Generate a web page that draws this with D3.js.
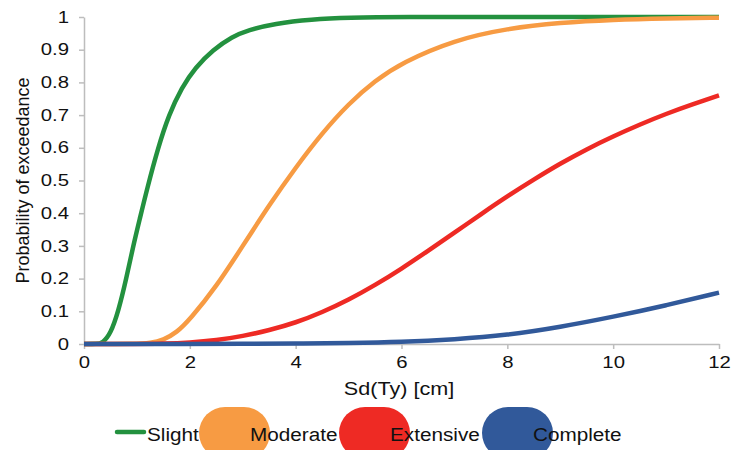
<!DOCTYPE html>
<html>
<head>
<meta charset="utf-8">
<script src="https://cdn.jsdelivr.net/npm/d3@7"></script>
<style>
  body { margin: 0; background: #fff; }
  text { font-family: "Liberation Sans", Arial, Helvetica, sans-serif; fill: #111; }
</style>
</head>
<body>
<div id="chart"></div>
<script>
// x values (Sd(Ty) in cm), per curve
var slightX = [0, 0.25, 0.35, 0.5, 0.65, 0.8, 0.93, 1.05, 1.2, 1.4, 1.6, 1.85, 2.1, 2.44, 2.8, 3.1, 3.6, 4.3, 5, 6, 8, 12]
var slightY = [0, 0, 0.003, 0.03, 0.10, 0.20, 0.30, 0.38, 0.48, 0.60, 0.70, 0.785, 0.845, 0.90, 0.94, 0.96, 0.98, 0.993, 0.998, 1, 1, 1]

var moderateX = [0, 1, 1.25, 1.5, 1.75, 2, 2.5, 3, 3.5, 4, 4.5, 5, 5.5, 6, 7, 8, 9, 10, 11, 12]
var moderateY = [0, 0, 0.003, 0.012, 0.035, 0.075, 0.175, 0.30, 0.425, 0.54, 0.645, 0.735, 0.805, 0.86, 0.93, 0.965, 0.983, 0.992, 0.996, 0.998]

var extensiveX = [0, 1, 1.5, 2, 2.5, 3, 3.5, 4, 4.5, 5, 5.5, 6, 6.5, 7, 7.5, 8, 8.5, 9, 9.5, 10, 10.5, 11, 11.5, 12]
var extensiveY = [0, 0, 0.001, 0.004, 0.011, 0.024, 0.042, 0.065, 0.097, 0.135, 0.18, 0.23, 0.285, 0.34, 0.397, 0.452, 0.503, 0.552, 0.596, 0.635, 0.671, 0.704, 0.733, 0.76]

var completeX = [0, 2, 3, 4, 5, 6, 7, 8, 9, 10, 11, 12]
var completeY = [0, 0, 0.0005, 0.001, 0.003, 0.006, 0.014, 0.027, 0.052, 0.083, 0.118, 0.157]

var seriesNames = ['Slight', 'Moderate', 'Extensive', 'Complete']
var seriesColors = ['#23913f', '#f79b43', '#ee2a24', '#31599a']
var xTicks = [0, 2, 4, 6, 8, 10, 12]
var yTicks = [0, 0.1, 0.2, 0.3, 0.4, 0.5, 0.6, 0.7, 0.8, 0.9, 1]

var margin = { top: 17, right: 13, bottom: 106, left: 84 }
var width = 732 - margin.left - margin.right
var height = 450 - margin.top - margin.bottom

var svg = d3.select('#chart').append('svg')
  .attr('width', 732)
  .attr('height', 450)

var g = svg.append('g')
  .attr('transform', 'translate(' + margin.left + ',' + margin.top + ')')

var x = d3.scaleLinear().domain([0, 12]).range([0, width])
var y = d3.scaleLinear().domain([0, 1]).range([height, 0])

// the original text is a bit wide, stretch glyphs horizontally
function widen(sel, k) {
  sel.each(function () {
    var w = this.getComputedTextLength()
    d3.select(this).attr('textLength', w * k).attr('lengthAdjust', 'spacingAndGlyphs')
  })
}

// axes
var xAxis = g.append('g')
  .attr('transform', 'translate(0,' + height + ')')
  .call(d3.axisBottom(x).tickValues(xTicks).tickSize(5).tickSizeOuter(0).tickPadding(8))
var yAxis = g.append('g')
  .call(d3.axisLeft(y).tickValues(yTicks).tickSize(5).tickSizeOuter(0).tickPadding(10)
    .tickFormat(function (d) { return d3.format('')(+d.toFixed(1)) }))

;[xAxis, yAxis].forEach(function (a) {
  a.selectAll('path, line').attr('stroke', '#bdbdbd').attr('stroke-width', 1.5)
  a.selectAll('text').style('font-size', '16px').attr('fill', '#111')
  widen(a.selectAll('text'), 1.27)
})

// curves
var allData = [
  { name: 'Slight', xs: slightX, ys: slightY },
  { name: 'Moderate', xs: moderateX, ys: moderateY },
  { name: 'Extensive', xs: extensiveX, ys: extensiveY },
  { name: 'Complete', xs: completeX, ys: completeY }
]
var color = d3.scaleOrdinal().domain(seriesNames).range(seriesColors)

var line = d3.line()
  .x(function (d) { return x(d[0]) })
  .y(function (d) { return y(d[1]) })
  .curve(d3.curveBasis)

g.selectAll('.curve')
  .data(allData)
  .enter().append('path')
  .attr('class', 'curve')
  .attr('fill', 'none')
  .attr('stroke', function (d) { return color(d.name) })
  .attr('stroke-width', 4.5)
  .attr('d', function (d) { return line(d.xs.map(function (v, i) { return [v, d.ys[i]] })) })

// axis titles
var xTitle = svg.append('text')
  .attr('x', 399)
  .attr('y', 395)
  .attr('text-anchor', 'middle')
  .style('font-size', '18px')
  .text('Sd(Ty) [cm]')
widen(xTitle, 1.2)

svg.append('text')
  .attr('transform', 'translate(29,' + (margin.top + height / 2) + ') rotate(-90)')
  .attr('text-anchor', 'middle')
  .style('font-size', '18px')
  .text('Probability of exceedance')

// legend (first entry a line, the rest big rounded swatches)
var legendX = [117, 199, 339, 482]
var legend = svg.selectAll('.legend')
  .data(seriesNames)
  .enter().append('g')
  .attr('class', 'legend')
  .attr('transform', function (d, i) { return 'translate(' + legendX[i] + ',0)' })

legend.filter(function (d, i) { return i === 0 })
  .append('line')
  .attr('x1', 0).attr('x2', 27)
  .attr('y1', 432).attr('y2', 432)
  .attr('stroke', function (d) { return color(d) })
  .attr('stroke-width', 4.5)
  .attr('stroke-linecap', 'round')

legend.filter(function (d, i) { return i > 0 })
  .append('rect')
  .attr('x', 0).attr('y', 407)
  .attr('width', 71).attr('height', 52)
  .attr('rx', 26).attr('ry', 26)
  .attr('fill', function (d) { return color(d) })

var legendText = legend.append('text')
  .attr('x', function (d, i) { return i === 0 ? 30 : 51 })
  .attr('y', 441)
  .style('font-size', '18px')
  .text(function (d) { return d })
widen(legendText, 1.15)
</script>
</body>
</html>
